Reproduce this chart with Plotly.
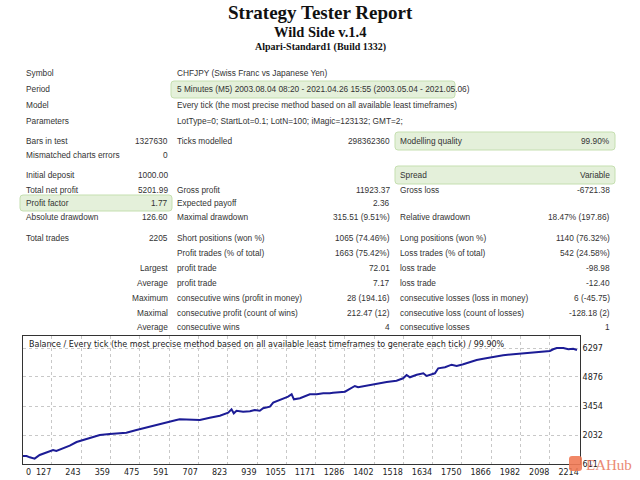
import plotly.graph_objects as go

W, H = 640, 480

# ---------------- data ----------------
trade_no = [0, 27, 40, 59, 79, 106, 132, 145, 171, 198, 225, 251, 277, 317, 356, 396, 422,
            462, 502, 541, 581, 620, 633, 673, 713, 752, 792, 825, 838, 847, 858, 884, 911,
            930, 950, 963, 990, 1003, 1029, 1062, 1076, 1085, 1109, 1128, 1148, 1175, 1201,
            1227, 1240, 1287, 1306, 1326, 1339, 1373, 1412, 1452, 1491, 1517, 1531, 1544,
            1571, 1597, 1610, 1643, 1656, 1683, 1709, 1729, 1755, 1782, 1808, 1834, 1874,
            1913, 1953, 1993, 2032, 2072, 2098, 2111, 2125, 2151, 2171, 2190, 2205]
balance = [1000, 1003, 939, 874, 1052, 1165, 1297, 1248, 1381, 1508, 1689, 1787, 1871, 2033,
           2082, 2116, 2145, 2278, 2410, 2523, 2635, 2768, 2802, 2802, 2768, 2881, 2979, 3126,
           3292, 3096, 3224, 3175, 3194, 3258, 3224, 3341, 3420, 3616, 3748, 3910, 4028, 3783,
           3832, 3910, 4028, 4028, 4077, 4077, 4106, 4155, 4287, 4434, 4371, 4449, 4567, 4631,
           4694, 4812, 4974, 4861, 4988, 5057, 4925, 5057, 5302, 5351, 5479, 5415, 5498, 5611,
           5709, 5773, 5871, 5940, 5989, 6038, 6067, 6116, 6150, 6234, 6297, 6297, 6234, 6263,
           6201.99]

x_ticks = [127, 243, 359, 475, 591, 707, 823, 939, 1055, 1171, 1286, 1402, 1518, 1634,
           1750, 1866, 1982, 2098, 2214]
y_ticks = [611, 2032, 3454, 4876, 6297]

chart_title = ("Balance / Every tick (the most precise method based on all available "
               "least timeframes to generate each tick) / 99.90%")

header_lines = ["Strategy Tester Report", "Wild Side v.1.4", "Alpari-Standard1 (Build 1332)"]

info_rows = [
    ("Symbol", "CHFJPY (Swiss Franc vs Japanese Yen)"),
    ("Period", "5 Minutes (M5) 2003.08.04 08:20 - 2021.04.26 15:55 (2003.05.04 - 2021.05.06)"),
    ("Model", "Every tick (the most precise method based on all available least timeframes)"),
    ("Parameters", "LotType=0; StartLot=0.1; LotN=100; iMagic=123132; GMT=2;"),
]

# each row: label1, value1, label2, value2, label3, value3
stat_rows = [
    ("Bars in test", "1327630", "Ticks modelled", "298362360", "Modelling quality", "99.90%"),
    ("Mismatched charts errors", "0", "", "", "", ""),
    ("Initial deposit", "1000.00", "", "", "Spread", "Variable"),
    ("Total net profit", "5201.99", "Gross profit", "11923.37", "Gross loss", "-6721.38"),
    ("Profit factor", "1.77", "Expected payoff", "2.36", "", ""),
    ("Absolute drawdown", "126.60", "Maximal drawdown", "315.51 (9.51%)", "Relative drawdown", "18.47% (197.86)"),
    ("Total trades", "2205", "Short positions (won %)", "1065 (74.46%)", "Long positions (won %)", "1140 (76.32%)"),
    ("", "", "Profit trades (% of total)", "1663 (75.42%)", "Loss trades (% of total)", "542 (24.58%)"),
    ("", "Largest", "profit trade", "72.01", "loss trade", "-98.98"),
    ("", "Average", "profit trade", "7.17", "loss trade", "-12.40"),
    ("", "Maximum", "consecutive wins (profit in money)", "28 (194.16)", "consecutive losses (loss in money)", "6 (-45.75)"),
    ("", "Maximal", "consecutive profit (count of wins)", "212.47 (12)", "consecutive loss (count of losses)", "-128.18 (2)"),
    ("", "Average", "consecutive wins", "4", "consecutive losses", "1"),
]

# ---------------- layout helpers (pixel -> paper) ----------------
def px(x):
    return x / W

def py(y):
    return 1 - y / H

info_y = [73, 89, 105, 121]
stat_y = [141, 155, 175, 190, 203, 217, 238, 253, 268, 283, 298, 313, 327]

PLOT_L, PLOT_R, PLOT_T, PLOT_B = 23, 580, 336, 464

fig = go.Figure()
fig.add_trace(go.Scatter(x=trade_no, y=balance, mode="lines",
                         line=dict(color="#1c1c96", width=2), hoverinfo="skip",
                         showlegend=False))

annotations = []
TF = "Liberation Sans"
TS = 8.3
TC = "#333333"

def txt(x, y, s, anchor="left", size=TS, color=TC, family=TF, bold=False):
    if not s:
        return
    annotations.append(dict(x=px(x), y=py(y), xref="paper", yref="paper",
                            text=(f"<b>{s}</b>" if bold else s),
                            showarrow=False, xanchor=anchor, yanchor="middle",
                            font=dict(family=family, size=size, color=color)))

# header
txt(320, 12, header_lines[0], "center", 19, "#111111", "Liberation Serif", True)
txt(320, 32, header_lines[1], "center", 14.5, "#111111", "Liberation Serif", True)
txt(320, 47, header_lines[2], "center", 10, "#111111", "Liberation Serif", True)

COL1, COL2R, COL3, COL4R, COL5, COL6R = 24, 170, 175, 392, 398, 612

for (lab, val), yy in zip(info_rows, info_y):
    txt(COL1, yy, lab)
    txt(COL3, yy, val)

for row, yy in zip(stat_rows, stat_y):
    l1, v1, l2, v2, l3, v3 = row
    txt(COL1, yy, l1)
    txt(COL2R, yy, v1, "right")
    txt(COL3, yy, l2)
    txt(COL4R, yy, v2, "right")
    txt(COL5, yy, l3)
    txt(COL6R, yy, v3, "right")

# chart title inside plot
txt(27, 344, chart_title, "left", 8, "#222222", "DejaVu Sans")
# first x label "0"
txt(24, 472, "0", "left", 8, "#222222", "DejaVu Sans")

# watermark
annotations.append(dict(x=px(584), y=py(465), xref="paper", yref="paper", text="EAHub",
                        showarrow=False, xanchor="left", yanchor="middle",
                        font=dict(family="Liberation Serif", size=15, color="#e8765c"),
                        opacity=0.85))

# highlight boxes with rounded corners
shapes = []
def rounded(x0, y0, x1, y1, r=3):
    rx, ry = r / W, r / H
    X0, X1 = px(x0), px(x1)
    Y0, Y1 = py(y1), py(y0)  # bottom, top in paper units
    return (f"M {X0+rx},{Y0} L {X1-rx},{Y0} Q {X1},{Y0} {X1},{Y0+ry} "
            f"L {X1},{Y1-ry} Q {X1},{Y1} {X1-rx},{Y1} L {X0+rx},{Y1} "
            f"Q {X0},{Y1} {X0},{Y1-ry} L {X0},{Y0+ry} Q {X0},{Y0} {X0+rx},{Y0} Z")

def box(x0, y0, x1, y1):
    shapes.append(dict(type="path", xref="paper", yref="paper", path=rounded(x0, y0, x1, y1),
                       fillcolor="#e4f0da", line=dict(color="#c5dfb0", width=1), layer="below"))

box(171, 81, 455, 98)
box(395, 132, 615, 150)
box(395, 166, 615, 184)
box(20, 195, 172, 211)
# watermark icon
shapes.append(dict(type="path", xref="paper", yref="paper", path=rounded(569, 456, 582, 471, 3),
                   fillcolor="#f07a55", line=dict(width=0), layer="above", opacity=0.9))

axis_font = dict(family="DejaVu Sans", size=8, color="#222222")
fig.update_layout(
    width=W, height=H, autosize=False,
    margin=dict(l=0, r=0, t=0, b=0, pad=0),
    paper_bgcolor="white", plot_bgcolor="white",
    annotations=annotations, shapes=shapes,
    xaxis=dict(domain=[px(PLOT_L), px(PLOT_R)], range=[13, 2217],
               tickvals=x_ticks, ticktext=[str(v) for v in x_ticks],
               ticklabelposition="outside left", tickangle=0, automargin=False,
               showgrid=True, gridcolor="#c8c8c8", griddash="dot", gridwidth=1,
               showline=True, linecolor="#333333", linewidth=1, mirror=True,
               ticks="", zeroline=False, tickfont=axis_font),
    yaxis=dict(domain=[py(PLOT_B), py(PLOT_T)], range=[611, 6885], side="right",
               tickvals=y_ticks, ticktext=[str(v) for v in y_ticks], automargin=False,
               showgrid=True, gridcolor="#c8c8c8", griddash="dot", gridwidth=1,
               showline=True, linecolor="#333333", linewidth=1, mirror=True,
               ticks="", zeroline=False, tickfont=axis_font),
)

fig.write_html("out.html", config={"displayModeBar": False},
               post_script="document.body.style.margin='0';")
